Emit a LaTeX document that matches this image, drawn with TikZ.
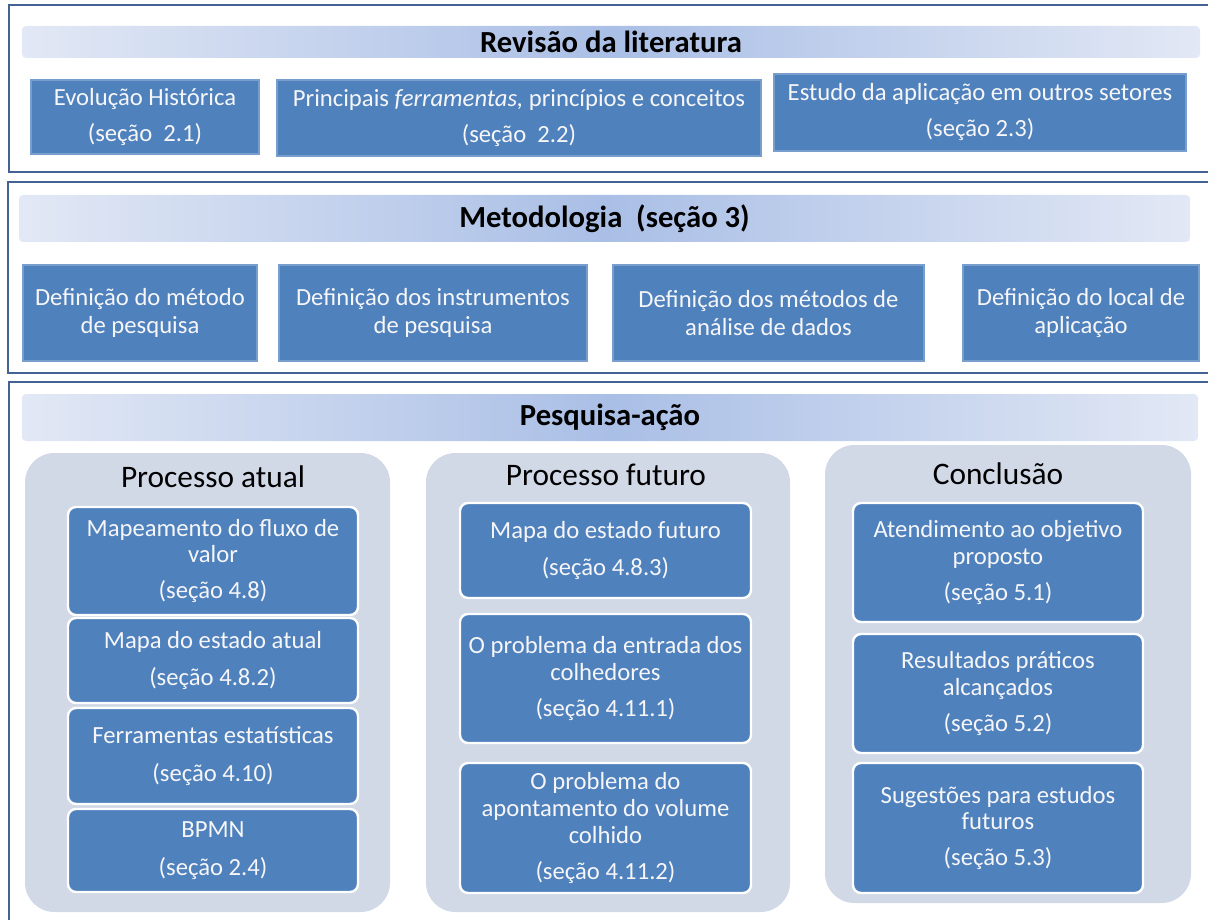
\documentclass[tikz,border=0pt]{standalone}
\usepackage{fontspec}
\setmainfont{Carlito}
\definecolor{frameblue}{RGB}{68,98,148}
\definecolor{boxblue}{RGB}{79,129,189}
\definecolor{boxedge}{RGB}{120,158,205}
\definecolor{panelgray}{RGB}{209,216,230}
\definecolor{barlight}{RGB}{226,232,245}
\definecolor{barmid}{RGB}{170,191,230}
\definecolor{txtwhite}{RGB}{246,246,248}
\tikzset{
  frame/.style={draw=frameblue, line width=1.6pt},
  bar/.style={rounded corners=3pt, left color=barlight, right color=barlight, middle color=barmid,
    inner sep=0pt, font=\fontsize{23}{26}\selectfont\bfseries, text=black},
  topbox/.style={fill=boxblue, draw=boxedge, line width=0.8pt, text=txtwhite, align=center,
    inner sep=0pt, font=\fontsize{18.5}{20}\selectfont},
  metbox/.style={topbox, font=\fontsize{18.5}{21}\selectfont},
  panel/.style={fill=panelgray, rounded corners=22pt, inner sep=0pt},
  ptitle/.style={anchor=base, font=\fontsize{23.5}{26}\selectfont, text=black},
  innerbox/.style={fill=boxblue, draw=white, line width=1.8pt, rounded corners=6pt, text=txtwhite,
    align=center, inner sep=0pt, font=\fontsize{18.5}{20}\selectfont}
}
\newcommand{\bx}[7]{\node[#1, minimum width={(#5-#3)*0.75pt}, minimum height={(#6-#4)*0.75pt}]
  (#2) at ({(#3+#5)/2},{(#4+#6)/2}) {#7};}
\begin{document}
\begin{tikzpicture}[x=0.75pt,y=-0.75pt]
\useasboundingbox (0,0) rectangle (1208,920);
\clip (0,0) rectangle (1208,920);
% frames
\draw[frame] (9,5) rectangle (1220,172);
\draw[frame] (8,182) rectangle (1220,373);
\draw[frame] (9,382) rectangle (1220,940);
% header bars
\bx{bar}{bar1}{22}{26}{1200}{58}{Revisão da literatura}
\bx{bar}{bar2}{19}{195}{1190}{242}{Metodologia\ \ (seção 3)}
\bx{bar}{bar3}{22}{394}{1198}{441}{Pesquisa-ação}
% top row
\bx{topbox}{b11}{31}{80}{259}{154}{Evolução Histórica\\[7pt](seção\ \ 2.1)}
\bx{topbox}{b12}{277}{80}{761}{156}{Principais \textit{ferramentas,} princípios e conceitos\\[7pt](seção\ \ 2.2)}
\bx{topbox}{b13}{774}{74}{1186}{151}{Estudo da aplicação em outros setores\\[7pt](seção 2.3)}
% methodology row
\bx{metbox}{b21}{23}{265}{257}{361}{Definição do método\\de pesquisa}
\bx{metbox}{b22}{279}{265}{587}{361}{Definição dos instrumentos\\de pesquisa}
\bx{metbox}{b23}{613}{265}{924}{361}{Definição dos métodos de\\análise de dados}
\bx{metbox}{b24}{963}{265}{1199}{361}{Definição do local de\\aplicação}
% panels
\bx{panel}{p1}{25}{453}{390}{912}{}
\bx{panel}{p2}{426}{453}{790}{912}{}
\bx{panel}{p3}{825}{445}{1191}{903}{}
\node[ptitle] (t1) at (213,487) {Processo atual};
\node[ptitle] (t2) at (606,485) {Processo futuro};
\node[ptitle] (t3) at (998,484) {Conclusão};
% panel 1 boxes
\bx{innerbox}{a1}{68}{507}{358}{615}{Mapeamento do fluxo de\\valor\\[7pt](seção 4.8)}
\bx{innerbox}{a2}{68}{618}{358}{703}{Mapa do estado atual\\[8pt](seção 4.8.2)}
\bx{innerbox}{a3}{68}{708}{358}{804}{Ferramentas estatísticas\\[8pt](seção 4.10)}
\bx{innerbox}{a4}{68}{809}{358}{892}{BPMN\\[8pt](seção 2.4)}
% panel 2 boxes
\bx{innerbox}{f1}{460}{503}{751}{598}{Mapa do estado futuro\\[8pt](seção 4.8.3)}
\bx{innerbox}{f2}{460}{614}{751}{743}{O problema da entrada dos\\colhedores\\[7pt](seção 4.11.1)}
\bx{innerbox}{f3}{460}{763}{751}{893}{O problema do\\apontamento do volume\\colhido\\[7pt](seção 4.11.2)}
% panel 3 boxes
\bx{innerbox}{c1}{853}{503}{1143}{622}{Atendimento ao objetivo\\proposto\\[7pt](seção 5.1)}
\bx{innerbox}{c2}{853}{634}{1143}{753}{Resultados práticos\\alcançados\\[7pt](seção 5.2)}
\bx{innerbox}{c3}{853}{763}{1143}{893}{Sugestões para estudos\\futuros\\[7pt](seção 5.3)}
\end{tikzpicture}
\end{document}
